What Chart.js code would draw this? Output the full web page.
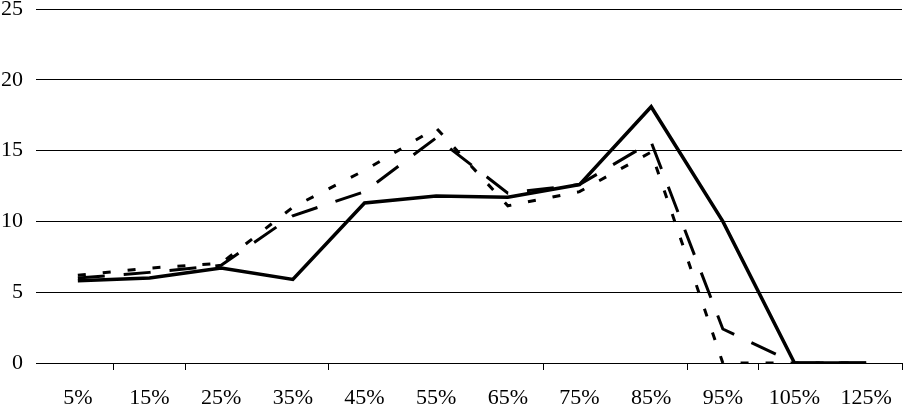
<!DOCTYPE html>
<html>
<head>
<meta charset="utf-8">
<script src="https://cdn.jsdelivr.net/npm/chart.js@4/dist/chart.umd.min.js"></script>
<style>
  html, body { margin: 0; padding: 0; background: #fff; }
  #wrap { width: 903px; height: 405px; position: relative; }
</style>
</head>
<body>
<div id="wrap"><canvas id="chart"></canvas></div>
<script>
// categories along the bottom
const categories = ['5%', '15%', '25%', '35%', '45%', '55%', '65%', '75%', '85%', '95%', '105%', '125%'];

// three series
const solidSeries = [5.8, 6.0, 6.7, 5.9, 11.3, 11.8, 11.7, 12.6, 18.1, 10.0, 0, 0];
const longDashSeries = [6.0, 6.4, 6.9, 10.4, 12.1, 15.9, 12.0, 12.6, 15.6, 2.4, 0, 0];
const shortDashSeries = [6.2, 6.7, 7.05, 11.0, 13.6, 16.6, 11.1, 12.1, 14.9, 0, 0, 0];

// y axis
const yMin = 0;
const yMax = 25;
const yStep = 5;

const serif = 'Liberation Serif, Times New Roman, serif';

// excel only drew some of the category tick marks
const tickMarksAt = [1, 2, 4, 7, 9, 10];

function lineSet(data, width, dash) {
  return {
    data,
    borderColor: '#000',
    borderWidth: width,
    borderDash: dash,
    pointRadius: 0,
    tension: 0,
    fill: false,
    borderJoinStyle: 'miter',
    borderCapStyle: 'butt'
  };
}

window.addEventListener('DOMContentLoaded', () => {
  const ctx = document.getElementById('chart').getContext('2d');
  new Chart(ctx, {
    type: 'line',
    data: {
      labels: categories,
      datasets: [
        lineSet(shortDashSeries, 3, [8, 17]),
        lineSet(longDashSeries, 3, [27, 19]),
        lineSet(solidSeries, 3.5, [])
      ]
    },
    options: {
      responsive: true,
      maintainAspectRatio: false,
      animation: false,
      layout: { padding: { top: 9, right: 1, left: 0, bottom: 0 } },
      plugins: {
        legend: { display: false },
        tooltip: { enabled: false }
      },
      scales: {
        x: {
          offset: true,
          afterFit: s => {
            s.height = 42;
            s.paddingLeft = 0;
            s.paddingRight = 0;
          },
          grid: {
            offset: true,
            drawOnChartArea: false,
            drawTicks: true,
            tickLength: 7,
            lineWidth: 1,
            color: c => (c.index === undefined || tickMarksAt.includes(c.index)) ? '#000' : 'rgba(0,0,0,0)'
          },
          border: { display: true, color: '#000', width: 1 },
          ticks: {
            color: '#000',
            padding: 15,
            maxRotation: 0,
            autoSkip: false,
            font: { family: serif, size: 22 }
          }
        },
        y: {
          min: yMin,
          max: yMax,
          afterFit: s => {
            s.width = 42;
            s.paddingTop = 0;
            s.paddingBottom = 0;
          },
          grid: {
            color: '#000',
            lineWidth: 1,
            drawTicks: true,
            tickLength: 6
          },
          border: { display: false },
          ticks: {
            stepSize: yStep,
            color: '#000',
            padding: 13,
            font: { family: serif, size: 22 }
          }
        }
      }
    }
  });
});
</script>
</body>
</html>
